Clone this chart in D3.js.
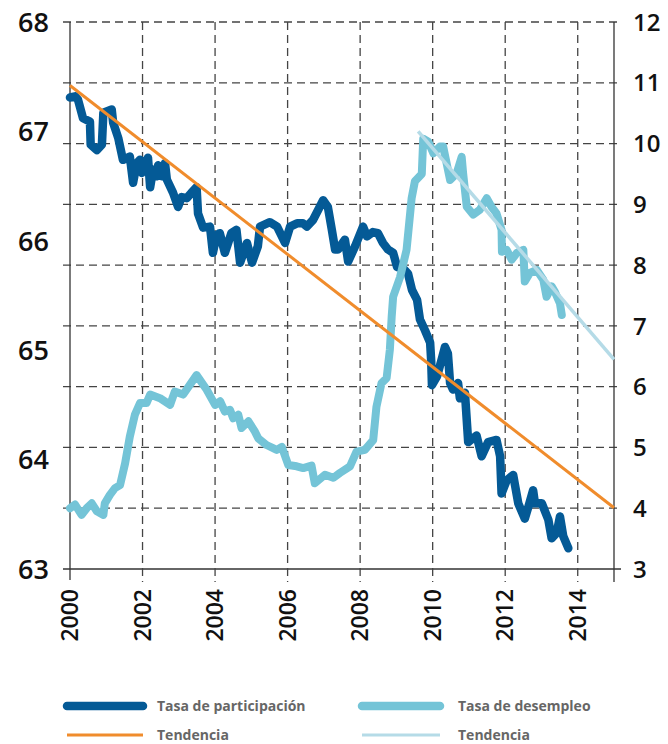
<!DOCTYPE html>
<html><head><meta charset="utf-8">
<script src="https://cdn.jsdelivr.net/npm/d3@7"></script>
<style>
body{margin:0;background:#fff;}
svg{display:block;}
.tick{font-family:"Open Sans",sans-serif;font-weight:600;fill:#111;}
.leg{font-family:"Open Sans",sans-serif;font-weight:700;fill:#666;font-size:14px;}
</style></head><body>
<svg id="c" width="668" height="744"></svg>
<script>
// ---- data ----
const partYears = [2000.00,2000.14,2000.22,2000.36,2000.55,2000.57,2000.74,2000.88,2000.92,2001.15,2001.19,2001.33,2001.46,2001.65,2001.74,2001.84,2001.93,2001.98,2002.15,2002.21,2002.29,2002.39,2002.43,2002.53,2002.62,2002.67,2002.84,2002.98,2003.08,2003.22,2003.35,2003.49,2003.53,2003.67,2003.86,2003.94,2004.04,2004.13,2004.27,2004.45,2004.59,2004.69,2004.88,2005.02,2005.18,2005.24,2005.51,2005.71,2005.93,2006.07,2006.26,2006.42,2006.53,2006.70,2006.98,2007.11,2007.22,2007.31,2007.39,2007.58,2007.67,2007.86,2008.08,2008.19,2008.35,2008.49,2008.63,2008.77,2008.91,2009.02,2009.18,2009.32,2009.43,2009.57,2009.65,2009.79,2009.93,2009.96,2009.98,2010.12,2010.26,2010.34,2010.42,2010.48,2010.56,2010.70,2010.75,2010.89,2010.98,2011.21,2011.35,2011.53,2011.76,2011.86,2011.90,2012.04,2012.22,2012.36,2012.54,2012.64,2012.77,2012.82,2013.01,2013.19,2013.28,2013.42,2013.51,2013.60,2013.74];
const partValues = [67.31,67.32,67.29,67.12,67.09,66.88,66.83,66.88,67.17,67.20,67.08,66.94,66.74,66.77,66.53,66.71,66.74,66.62,66.76,66.49,66.65,66.59,66.69,66.59,66.71,66.56,66.44,66.31,66.40,66.39,66.44,66.49,66.25,66.12,66.13,65.89,66.05,66.07,65.89,66.07,66.10,65.80,65.98,65.80,65.95,66.13,66.17,66.13,65.98,66.13,66.16,66.16,66.13,66.19,66.37,66.31,66.10,65.92,65.92,66.01,65.81,65.95,66.13,66.04,66.08,66.07,65.98,65.92,65.89,65.76,65.75,65.70,65.55,65.46,65.28,65.18,65.07,64.90,64.68,64.76,64.93,65.03,64.97,64.70,64.64,64.70,64.56,64.61,64.16,64.22,64.03,64.16,64.18,64.03,63.69,63.81,63.86,63.60,63.46,63.57,63.72,63.60,63.60,63.45,63.28,63.33,63.48,63.30,63.19];

const unempYears = [2000.00,2000.14,2000.32,2000.46,2000.60,2000.74,2000.92,2000.96,2001.10,2001.24,2001.38,2001.52,2001.65,2001.79,2001.93,2002.11,2002.21,2002.48,2002.76,2002.89,2003.12,2003.49,2003.77,2004.00,2004.14,2004.27,2004.41,2004.50,2004.64,2004.73,2004.92,2005.10,2005.19,2005.42,2005.70,2005.84,2006.02,2006.25,2006.43,2006.66,2006.75,2007.03,2007.26,2007.44,2007.72,2007.90,2008.13,2008.36,2008.45,2008.59,2008.73,2008.82,2008.87,2008.91,2009.10,2009.28,2009.42,2009.51,2009.70,2009.74,2009.88,2010.02,2010.20,2010.29,2010.48,2010.66,2010.80,2010.84,2010.94,2011.12,2011.30,2011.49,2011.62,2011.76,2011.90,2011.91,2012.04,2012.18,2012.32,2012.50,2012.54,2012.68,2012.87,2013.05,2013.14,2013.28,2013.37,2013.51,2013.56];
const unempValues = [4.00,4.06,3.89,4.00,4.08,3.95,3.89,4.08,4.22,4.33,4.38,4.74,5.18,5.54,5.73,5.73,5.87,5.81,5.70,5.92,5.87,6.19,5.95,5.70,5.76,5.59,5.62,5.48,5.54,5.32,5.43,5.26,5.15,5.04,4.96,5.01,4.71,4.69,4.66,4.70,4.41,4.55,4.50,4.58,4.69,4.93,4.96,5.12,5.67,6.06,6.14,6.61,7.15,7.48,7.80,8.25,9.10,9.38,9.50,10.08,10.03,9.84,9.95,9.95,9.40,9.51,9.78,9.51,8.96,8.83,8.91,9.10,8.96,8.85,8.58,8.22,8.25,8.09,8.20,8.25,7.73,7.87,7.92,7.76,7.48,7.65,7.56,7.37,7.18];

const partTrendYears = [2000, 2015];
const partTrendValues = [67.42, 63.56];
const unempTrendYears = [2009.6, 2015];
const unempTrendValues = [10.2, 6.45];

const leftTicks = [63,64,65,66,67,68];
const rightTicks = [3,4,5,6,7,8,9,10,11,12];
const xTicks = [2000,2002,2004,2006,2008,2010,2012,2014];
const legendLabels = ["Tasa de participación","Tasa de desempleo","Tendencia","Tendencia"];

// ---- drawing ----
const svg = d3.select("#c");
const x = d3.scaleLinear().domain([2000,2015]).range([70,614]);
const yL = d3.scaleLinear().domain([63,68]).range([569,22]);
const yR = d3.scaleLinear().domain([3,12]).range([569,22]);

const grid = svg.append("g");
grid.selectAll("line.h").data(rightTicks).join("line")
  .attr("x1",63).attr("x2",621)
  .attr("y1",d=>yR(d)).attr("y2",d=>yR(d))
  .attr("stroke",d=>d===3?"#333":"#444").attr("stroke-width",1.3)
  .attr("stroke-dasharray",d=>d===3?null:"8,5");
grid.selectAll("line.v").data(xTicks.filter(d=>d>2000)).join("line")
  .attr("x1",d=>x(d)).attr("x2",d=>x(d))
  .attr("y1",22).attr("y2",582)
  .attr("stroke","#444").attr("stroke-width",1.3)
  .attr("stroke-dasharray","8,5");
grid.append("line").attr("x1",x(2000)).attr("x2",x(2000)).attr("y1",22).attr("y2",580).attr("stroke","#333").attr("stroke-width",1.3);
grid.append("line").attr("x1",x(2015)).attr("x2",x(2015)).attr("y1",22).attr("y2",582).attr("stroke","#333").attr("stroke-width",1.3);

svg.append("g").selectAll("text").data(leftTicks).join("text")
  .attr("class","tick").attr("x",49).attr("y",d=>yL(d)).attr("dy","0.36em")
  .attr("text-anchor","end").attr("font-size",27).text(d=>d);
svg.append("g").selectAll("text").data(rightTicks).join("text")
  .attr("class","tick").attr("x",633).attr("y",d=>yR(d)).attr("dy","0.36em")
  .attr("text-anchor","start").attr("font-size",24).text(d=>d);
svg.append("g").selectAll("text").data(xTicks).join("text")
  .attr("class","tick").attr("font-size",23)
  .attr("transform",d=>`translate(${x(d)},589) rotate(-90)`)
  .attr("text-anchor","end").attr("dy","0.36em").text(d=>d);

const line = (ys)=>d3.line().x(d=>x(d[0])).y(d=>ys(d[1]));
const pairs = (a,b)=>a.map((v,i)=>[v,b[i]]);
svg.append("path").datum(pairs(partYears,partValues))
  .attr("d",line(yL)).attr("fill","none").attr("stroke","#045a96").attr("stroke-width",8.5)
  .attr("stroke-linejoin","round").attr("stroke-linecap","round");
svg.append("path").datum(pairs(unempYears,unempValues))
  .attr("d",line(yR)).attr("fill","none").attr("stroke","#74c4d7").attr("stroke-width",8)
  .attr("stroke-linejoin","round").attr("stroke-linecap","round");
svg.append("path").datum(pairs(partTrendYears,partTrendValues))
  .attr("d",line(yL)).attr("fill","none").attr("stroke","#f08c2c").attr("stroke-width",3);
svg.append("path").datum(pairs(unempTrendYears,unempTrendValues))
  .attr("d",line(yR)).attr("fill","none").attr("stroke","#b5dbe7").attr("stroke-width",3.5);

const leg = [
  {x1:67,x2:143,y:706,c:"#045a96",w:8.5,tx:157,t:legendLabels[0]},
  {x1:362,x2:440,y:706,c:"#74c4d7",w:8.5,tx:458,t:legendLabels[1]},
  {x1:67,x2:143,y:735,c:"#f08c2c",w:3,tx:157,t:legendLabels[2]},
  {x1:362,x2:440,y:735,c:"#b5dbe7",w:3,tx:458,t:legendLabels[3]}
];
const lg = svg.append("g").selectAll("g").data(leg).join("g");
lg.append("line").attr("x1",d=>d.x1).attr("x2",d=>d.x2).attr("y1",d=>d.y).attr("y2",d=>d.y)
  .attr("stroke",d=>d.c).attr("stroke-width",d=>d.w).attr("stroke-linecap",d=>d.w>5?"round":"butt");
lg.append("text").attr("class","leg").attr("x",d=>d.tx).attr("y",d=>d.y).attr("dy","0.36em").text(d=>d.t);
</script>
</body></html>
